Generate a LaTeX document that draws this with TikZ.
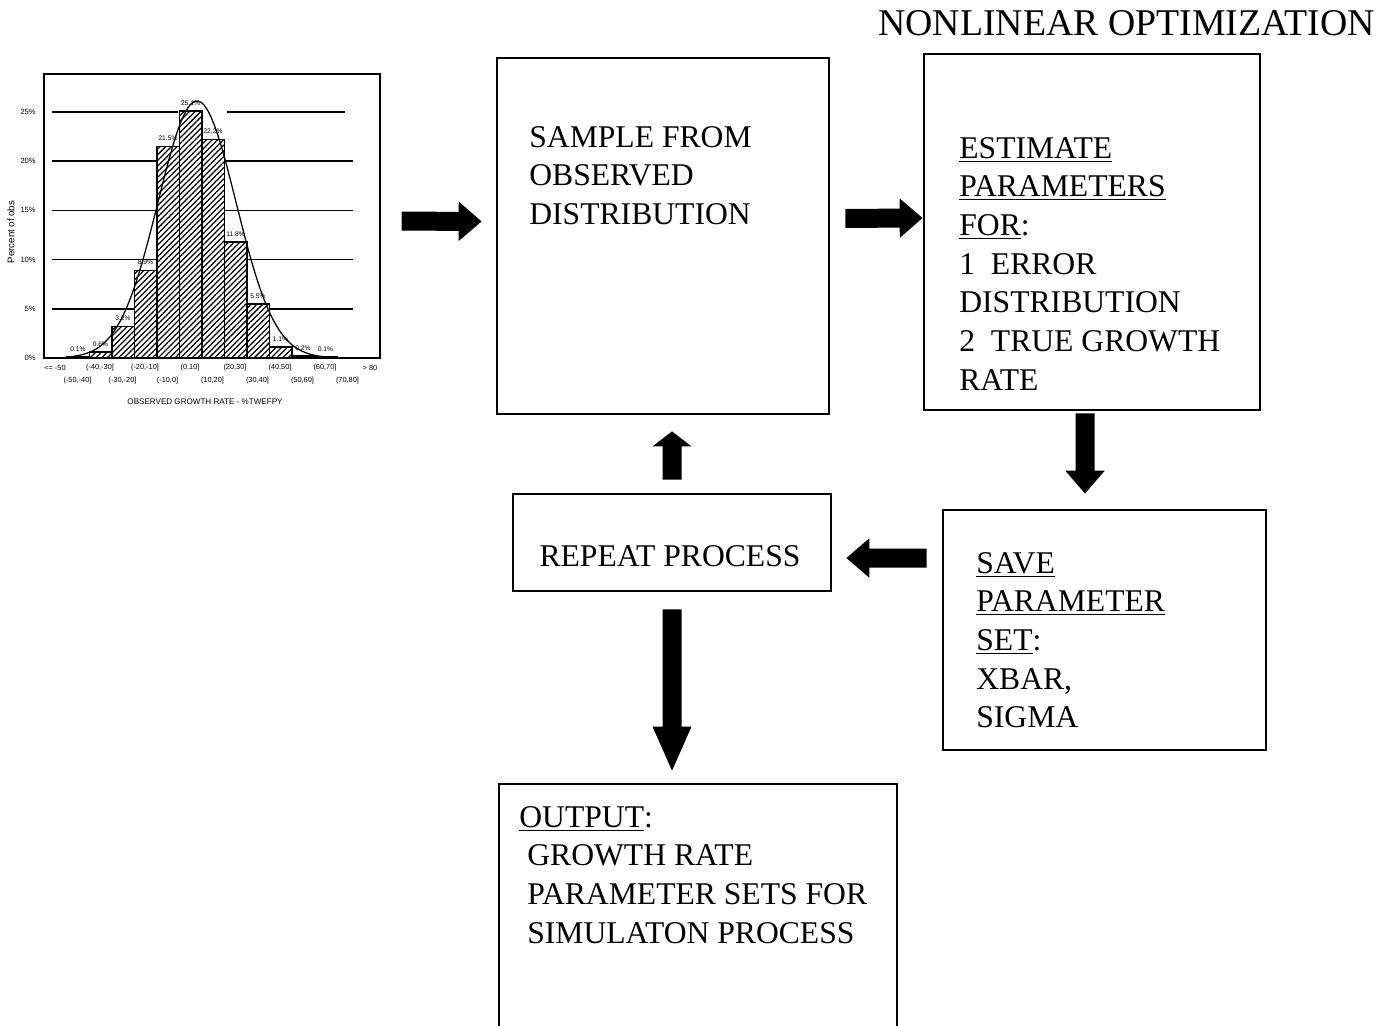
\documentclass[tikz,border=0pt]{standalone}
\usepackage{fontspec}
\setmainfont{Liberation Serif}
\newfontfamily\chartfont{Liberation Sans}
\usetikzlibrary{arrows.meta,patterns.meta}

\begin{document}
\begin{tikzpicture}[
    x=0.02cm, y=-0.02cm,
    box/.style={
        draw=black,
        line width=0.055cm,
        inner sep=0pt
    },
    boxtext/.style={
        anchor=north west,
        inner sep=0pt,
        align=left,
        font=\fontsize{18}{22}\selectfont
    },
    blockarrow/.style={line width=0.38cm, -{Triangle[length=0.46cm,width=0.76cm]}},
    bar/.style={
        draw=black,
        line width=0.03cm,
        preaction={fill=white},
        pattern={Lines[angle=45,distance=0.08cm,line width=0.025cm]}
    },
    grid/.style={line width=0.03cm},
    chartlabel/.style={inner sep=0pt, font=\chartfont\fontsize{#1}{#1}\selectfont}
]
    \useasboundingbox (0,0) rectangle (1376,1025);

    \node[draw=black, line width=0.025cm, minimum width=6.72cm, minimum height=5.68cm,
        inner sep=0pt] (chart) at (212,216) {};

    \foreach \p in {5,10,15,20}
        \draw[grid] (52,{358-9.84*\p}) -- (353,{358-9.84*\p});
    \draw[grid] (52,112) -- (178,112) (227,112) -- (345,112);

    \foreach \p in {0,5,...,25}
        \node[chartlabel=4.3, anchor=east] (tick\p) at (36,{358-9.84*\p}) {\p\%};

    \foreach \n/\val in {1/0.1, 2/0.6, 3/3.2, 4/8.9, 5/21.5, 6/25.1,
                         7/22.2, 8/11.8, 9/5.5, 10/1.1, 11/0.2, 12/0.1} {
        \draw[bar] ({44.25+22.5*\n},358) rectangle ({66.75+22.5*\n},{358-9.84*\val});
        \node[chartlabel=3.8] (pct\n) at ({55.5+22.5*\n},{350-9.84*\val}) {\val\%};
    }

    \draw[line width=0.025cm] plot[domain=70:335, samples=80, smooth]
        (\x,{358-257*exp(-0.5*((\x-197)/39)*((\x-197)/39))});

    \foreach \n/\lab in {0/{<= -50}, 1/{(-50,-40]}, 2/{(-40,-30]}, 3/{(-30,-20]},
                         4/{(-20,-10]}, 5/{(-10,0]}, 6/{(0,10]}, 7/{(10,20]},
                         8/{(20,30]}, 9/{(30,40]}, 10/{(40,50]}, 11/{(50,60]},
                         12/{(60,70]}, 13/{(70,80]}, 14/{> 80}}
        \node[chartlabel=4.2] (cat\n) at ({55+22.5*\n},{368+13*mod(\n,2)}) {\lab};

    \node[chartlabel=5.5, rotate=90] (ylabel) at (11,232) {Percent of obs};
    \node[chartlabel=4.6] (xlabel) at (205,402) {OBSERVED GROWTH RATE - \%TWEFPY};

    \node[anchor=north west, inner sep=0pt, font=\fontsize{21.5}{26}\selectfont]
        (title) at (878,10) {NONLINEAR OPTIMIZATION};

    \node[box, minimum width=6.64cm, minimum height=7.12cm] (sample) at (663,236) {};
    \node[box, minimum width=6.72cm, minimum height=7.12cm] (estimate) at (1092,232) {};
    \node[box, minimum width=6.46cm, minimum height=4.8cm] (save) at (1104.5,630) {};
    \node[box, minimum width=6.36cm, minimum height=1.94cm] (repeat) at (672,542.5) {};
    \node[box, minimum width=7.96cm, minimum height=4.92cm] (output) at (698,907) {};

    \node[boxtext] (sampletext) at (529,126)
        {SAMPLE FROM\\OBSERVED\\DISTRIBUTION};
    \node[boxtext] (estimatetext) at (959,137)
        {\underline{ESTIMATE}\\\underline{PARAMETERS}\\\underline{FOR}:\\
         1\ \ ERROR\\DISTRIBUTION\\2\ \ TRUE GROWTH\\RATE};
    \node[boxtext] (savetext) at (976,552)
        {\underline{SAVE}\\\underline{PARAMETER}\\\underline{SET}:\\XBAR,\\SIGMA};
    \node[boxtext, anchor=center] (repeattext) at (670,556) {REPEAT PROCESS};
    \node[boxtext] (outputtext) at (519,806)
        {\underline{OUTPUT}:\\\hspace*{0.16cm}GROWTH RATE\\
         \hspace*{0.16cm}PARAMETER SETS FOR\\\hspace*{0.16cm}SIMULATON PROCESS};

    \draw[blockarrow, shorten <=0.42cm, shorten >=0.28cm]
        ([yshift=-0.1cm]chart.east) -- ([yshift=0.29cm]sample.west);
    \draw[blockarrow, shorten <=0.3cm]
        ([yshift=0.35cm]sample.east) -- ([yshift=0.28cm]estimate.west);
    \draw[blockarrow, shorten <=0.04cm, shorten >=0.3cm]
        ([xshift=-0.14cm]estimate.south) -- ([xshift=-0.39cm]save.north);
    \draw[blockarrow, shorten <=0.3cm, shorten >=0.28cm]
        ([yshift=1.44cm]save.west) -- ([yshift=-0.31cm]repeat.east);
    \draw[blockarrow, -{Triangle[length=0.3cm,width=0.76cm]},
        shorten <=0.26cm, shorten >=0.32cm]
        (repeat.north) -- ([xshift=0.18cm]sample.south);
    \draw[blockarrow, -{Triangle[length=0.92cm,width=0.7cm]},
        shorten <=0.34cm, shorten >=0.2cm]
        (repeat.south) -- ([xshift=-0.52cm]output.north);
\end{tikzpicture}
\end{document}
